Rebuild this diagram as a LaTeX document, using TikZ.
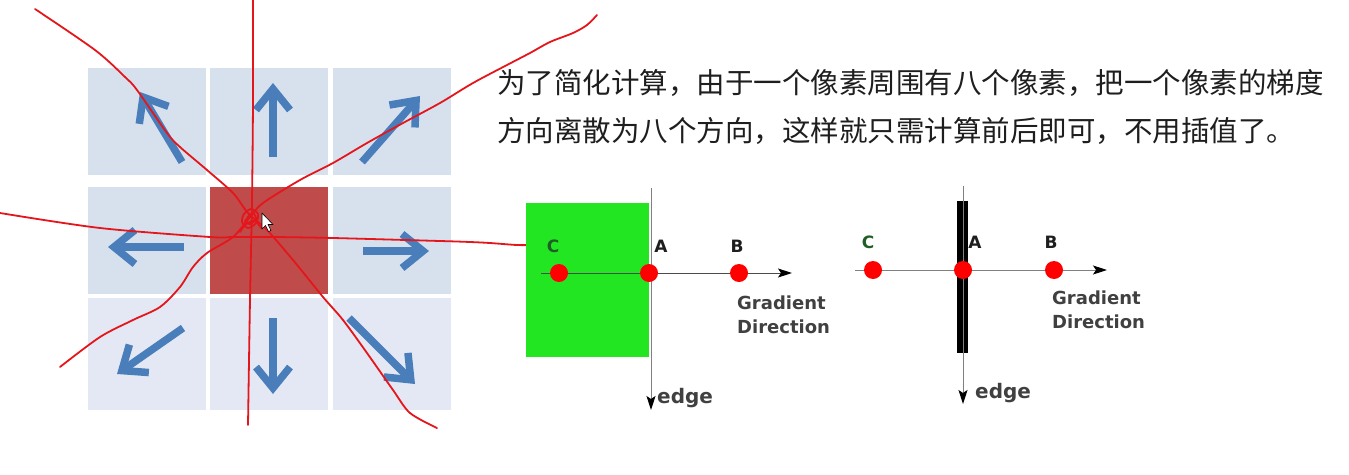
\documentclass[tikz,border=0pt]{standalone}
\usepackage{fontspec}
\setsansfont{DejaVu Sans}
\newfontfamily\cjk{Noto Sans CJK SC}
\usetikzlibrary{arrows.meta,positioning,calc}
\definecolor{cellblue}{HTML}{D7E1EE}
\definecolor{celllight}{HTML}{E4E8F4}
\definecolor{cellred}{HTML}{BF4C4A}
\definecolor{arrowblue}{HTML}{4A7EBB}
\definecolor{penred}{HTML}{E5161B}
\definecolor{edgegreen}{HTML}{22E622}
\definecolor{labelgreen}{HTML}{1F5E24}
\definecolor{axisgray}{HTML}{808080}
\definecolor{ink}{HTML}{1E1E1E}
\tikzset{
  cell/.style={fill=cellblue,minimum width=118pt,minimum height=107pt,inner sep=0pt},
  dirarrow/.style={arrowblue,line width=7.5pt,-{Straight Barb[length=21pt,width=34pt]}},
  pen/.style={penred,line width=1.8pt,line cap=round,line join=round},
  axis/.style={axisgray,line width=1pt,-{Stealth[black,length=14pt,width=9pt,inset=3pt]}},
  dot/.style={circle,fill=red,minimum size=18pt,inner sep=0pt},
  ptlabel/.style={font=\sffamily\bfseries\fontsize{17}{17}\selectfont,text=ink,inner sep=0pt},
  note/.style={font=\sffamily\bfseries\fontsize{18}{24}\selectfont,text=ink!85,align=left,inner sep=0pt},
}
\begin{document}
\begin{tikzpicture}[x=1pt,y=-1pt]
\useasboundingbox (0,0) rectangle (1349,474);
\node[cell] (cellNW) at (147,121.5) {};
\node[cell] (cellN) at (269,121.5) {};
\node[cell] (cellNE) at (391.5,121.5) {};
\node[cell] (cellW) at (147,240.5) {};
\node[cell,fill=cellred] (pixel) at (269,240.5) {};
\node[cell] (cellE) at (391.5,240.5) {};
\node[cell,fill=celllight,minimum height=112pt] (cellSW) at (147,354) {};
\node[cell,fill=celllight,minimum height=112pt] (cellS) at (269,354) {};
\node[cell,fill=celllight,minimum height=112pt] (cellSE) at (391.5,354) {};
\draw[dirarrow] ($(cellNW)+(35,40.5)$) -- ($(cellNW)+(-7,-29.5)$);
\draw[dirarrow] ($(cellN)+(4,35.5)$) -- ($(cellN)+(4,-38.5)$);
\draw[dirarrow] ($(cellNE)+(-29.5,40.5)$) -- ($(cellNE)+(28.5,-25.5)$);
\draw[dirarrow] ($(cellW)+(37,6.5)$) -- ($(cellW)+(-39,6.5)$);
\draw[dirarrow] ($(cellE)+(-28.5,10.5)$) -- ($(cellE)+(37.5,10.5)$);
\draw[dirarrow] ($(cellSW)+(36,-26)$) -- ($(cellSW)+(-30,20)$);
\draw[dirarrow] ($(cellS)+(4,-36)$) -- ($(cellS)+(4,40)$);
\draw[dirarrow] ($(cellSE)+(-42.5,-36)$) -- ($(cellSE)+(23.5,30)$);
\draw[pen] plot[smooth] coordinates {(253,0) (253,100) (252,200) (250,300) (248,425)};
\draw[pen] plot[smooth] coordinates {(35,9) (95,50) (125,77) (137,90) (167,133) (180,147) (207,170) (233,193) (248,213) (267,230) (293,260) (323,297) (343,320) (367,353) (393,390) (410,413) (437,428)};
\draw[pen] plot[smooth] coordinates {(597,15) (587,25) (573,33) (550,42) (530,53) (507,65) (473,83) (440,103) (403,123) (367,143) (333,163) (300,180) (263,203) (250,217) (233,237) (207,253) (193,267) (180,287) (160,307) (133,320) (100,337) (60,367)};
\draw[pen] plot[smooth] coordinates {(0,213) (100,228) (210,237) (233,237) (273,237) (333,238) (440,241) (470,242) (490,243) (517,245) (535,245)};
\draw[pen] plot[smooth cycle] coordinates {(244,214) (251,209) (258,214) (256,223) (248,228) (242,222)};
\draw[pen] plot[smooth] coordinates {(247,218) (253,213) (256,219) (250,224) (245,221) (251,216)};
\draw[pen] plot[smooth] coordinates {(240,232) (246,224) (255,221) (261,228)};
\draw[black,fill=white,line width=0.6pt,line join=round] (262,213) -- (262,229) -- (265.5,225.5) -- (268.5,231.5) -- (271,230.5) -- (268,224.5) -- (273,224.5) -- cycle;
\node[anchor=west,inner sep=0pt,text=ink,font=\cjk\fontsize{28.5}{28.5}\selectfont] (line1) at (497,83) {为了简化计算，由于一个像素周围有八个像素，把一个像素的梯度};
\node[anchor=west,inner sep=0pt,text=ink,font=\cjk\fontsize{28.5}{28.5}\selectfont] (line2) at (497,131) {方向离散为八个方向，这样就只需计算前后即可，不用插值了。};
\fill[edgegreen] (526,203) rectangle (649,357);
\coordinate (edgeTopL) at (651,188);
\coordinate (edgeEndL) at (651,410);
\coordinate (gradStartL) at (541,273);
\coordinate (gradEndL) at (792,273);
\draw[axis] (edgeTopL) -- (edgeEndL);
\draw[axis,draw=ink!80] (gradStartL) -- (gradEndL);
\node[dot] (dotCL) at (559,273) {};
\node[dot] (dotAL) at (649,273) {};
\node[dot] (dotBL) at (739,273) {};
\node[ptlabel,text=labelgreen] (labCL) at ($(dotCL)+(-6,-27)$) {C};
\node[ptlabel] (labAL) at ($(dotAL)+(12,-27)$) {A};
\node[ptlabel] (labBL) at ($(dotBL)+(-2,-27)$) {B};
\node[note,anchor=west] (gradL) at (737,315) {Gradient\\Direction};
\node[note,font=\sffamily\bfseries\fontsize{20}{20}\selectfont,anchor=west] (edgeL) at (657,398) {edge};
\fill[black] (957,201) rectangle (968,353);
\coordinate (edgeTopR) at (963,186);
\coordinate (edgeEndR) at (963,404);
\coordinate (gradStartR) at (855,270);
\coordinate (gradEndR) at (1107,270);
\draw[axis] (edgeTopR) -- (edgeEndR);
\draw[axis] (gradStartR) -- (gradEndR);
\node[dot] (dotCR) at (873,270) {};
\node[dot] (dotAR) at (963,270) {};
\node[dot] (dotBR) at (1054,270) {};
\node[ptlabel,text=labelgreen] (labCR) at ($(dotCR)+(-5,-28)$) {C};
\node[ptlabel] (labAR) at ($(dotAR)+(12,-28)$) {A};
\node[ptlabel] (labBR) at ($(dotBR)+(-3,-28)$) {B};
\node[note,anchor=west] (gradR) at (1052,310) {Gradient\\Direction};
\node[note,font=\sffamily\bfseries\fontsize{20}{20}\selectfont,anchor=west] (edgeR) at (975,393) {edge};
\end{tikzpicture}
\end{document}
